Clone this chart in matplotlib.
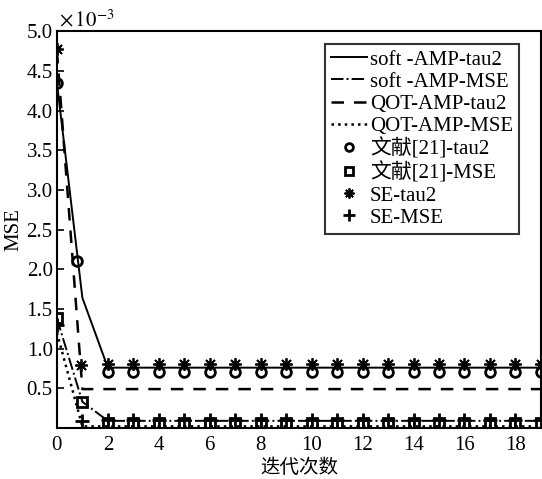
import matplotlib
matplotlib.use("Agg")
import matplotlib.pyplot as plt
import numpy as np

plt.rcParams['font.family'] = ['Liberation Serif', 'Noto Sans CJK SC']
plt.rcParams['mathtext.fontset'] = 'stix'

# values in units of 1e-3
soft_tau2_x = [0, 1] + list(range(2, 20))
soft_tau2 = [4.35, 1.64] + [0.76] * 18
soft_mse_x = [0, 1] + list(range(2, 20))
soft_mse = [1.38, 0.33] + [0.09] * 18
qot_tau2_x = [0, 1] + list(range(2, 20))
qot_tau2 = [4.75, 0.49] + [0.49] * 18
qot_mse_x = [0, 1] + list(range(2, 20))
qot_mse = [1.2, 0.02] + [0.02] * 18
ref_tau2_x = [0, 0.78] + list(range(2, 20))
ref_tau2 = [4.35, 2.1] + [0.71] * 18
ref_mse_x = [0, 1] + list(range(2, 20))
ref_mse = [1.38, 0.33] + [0.06] * 18
se_tau2_x = [0, 0.94] + list(range(2, 20))
se_tau2 = [4.77, 0.79] + [0.81] * 18
se_mse_x = [0, 1] + list(range(2, 20))
se_mse = [1.3, 0.09] + [0.10] * 18

yticks = [0.5, 1.0, 1.5, 2.0, 2.5, 3.0, 3.5, 4.0, 4.5, 5.0]
xticks = [0, 2, 4, 6, 8, 10, 12, 14, 16, 18]

fig = plt.figure(figsize=(5.42, 4.79), dpi=100)
ax = fig.add_axes([0.105, 0.1065, 0.893, 0.8285])

lw = 1.4
ax.plot(soft_tau2_x, soft_tau2, '-', color='k', lw=lw, label='soft -AMP-tau2')
ax.plot(soft_mse_x, soft_mse, '-.', color='k', lw=lw, label='soft -AMP-MSE')
ax.plot(qot_tau2_x, qot_tau2, '--', color='k', lw=1.8, dashes=(5, 4), label='QOT-AMP-tau2')
ax.plot(qot_mse_x, qot_mse, ':', color='k', lw=1.8, label='QOT-AMP-MSE')
ax.plot(ref_tau2_x, ref_tau2, 'o', mfc='none', mec='k', mew=2, ms=7, ls='none', label='文献[21]-tau2')
ax.plot(ref_mse_x, ref_mse, 's', mfc='none', mec='k', mew=2, ms=7, ls='none', label='文献[21]-MSE')
ax.plot(se_tau2_x, se_tau2, marker=(8, 2, 0), color='k', mew=1.3, ms=9, ls='none', label='SE-tau2')
ax.plot(se_mse_x, se_mse, '+', color='k', mew=2, ms=10, ls='none', label='SE-MSE')

ax.set_xlim(0, 19)
ax.set_ylim(0, 5.0)
ax.set_xticks(xticks)
ax.set_yticks(yticks)
ax.set_yticklabels([f'{v:.1f}' for v in yticks])
ax.tick_params(direction='in', labelsize=15, length=5, width=1.2)
ax.tick_params(axis='x', pad=6)
ax.tick_params(axis='y', pad=3)
for s in ax.spines.values():
    s.set_linewidth(1.5)

ax.set_xlabel('迭代次数', fontsize=14, labelpad=2)
ax.set_ylabel('MSE', fontsize=15, labelpad=2)
ax.text(0.005, 1.0, r'$\times\,10^{-3}$', transform=ax.transAxes, fontsize=15,
        ha='left', va='bottom')

leg = ax.legend(loc='upper right', bbox_to_anchor=(0.955, 0.968), fontsize=15,
                frameon=True, fancybox=False, edgecolor='k', handlelength=1.7,
                handletextpad=0.15, labelspacing=0.12, borderpad=0.3,
                borderaxespad=0.0, markerscale=0.8)
leg.get_frame().set_linewidth(1.5)

fig.savefig('out.png', dpi=100)
